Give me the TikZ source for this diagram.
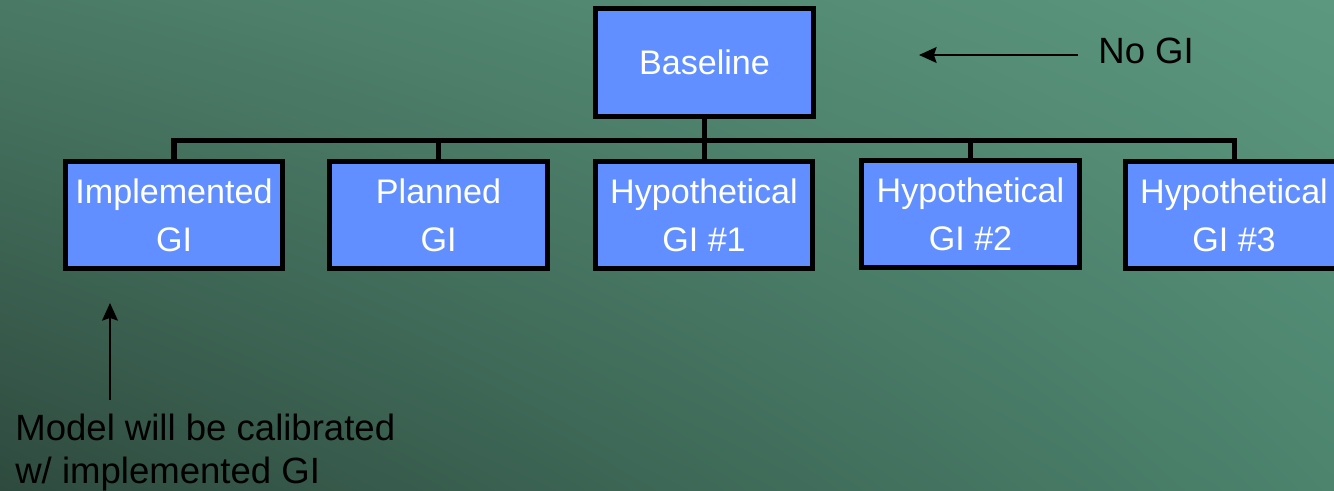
\documentclass[tikz,border=0pt]{standalone}
\usepackage{fontspec}
\setmainfont{Liberation Sans}
\usepackage{tikz}
\usetikzlibrary{arrows.meta, positioning, calc, shadings}
\definecolor{boxblue}{RGB}{98,143,255}
\definecolor{bgtl}{RGB}{74,122,102}
\definecolor{bgtr}{RGB}{92,152,128}
\definecolor{bgbl}{RGB}{46,74,62}
\definecolor{bgbr}{RGB}{76,132,110}
\tikzset{
    gibox/.style={draw=black, line width=2.85pt, fill=boxblue, text=white,
        minimum width=4.36cm, minimum height=2.16cm, inner sep=0pt,
        align=center, font=\fontsize{19.4}{27.5}\selectfont},
    link/.style={line width=2.85pt},
    note/.style={font=\fontsize{20.8}{24.5}\selectfont, inner sep=0pt},
    pointer/.style={-{Stealth[length=10pt, width=9pt, inset=1.5pt]}, line width=1.1pt}
}

\begin{document}
\begin{tikzpicture}[x=0.02cm, y=-0.02cm]
    % background
    \shade[upper left=bgtl, upper right=bgtr, lower left=bgbl, lower right=bgbr]
        (0,0) rectangle (1334,490);
    \useasboundingbox (0,0) rectangle (1334,490);
    \clip (0,0) rectangle (1334,490);
    % tree
    \node[gibox] (base) at (704.5,62.5) {Baseline};
    \node[gibox] (impl) at (174,215) {Implemented\\GI};
    \node[gibox] (plan) at (438.5,215) {Planned\\GI};
    \node[gibox] (hyp1) at (704,215) {Hypothetical\\GI \#1};
    \node[gibox] (hyp2) at (970.5,214) {Hypothetical\\GI \#2};
    \node[gibox] (hyp3) at (1234,215) {Hypothetical\\GI \#3};
    \foreach \n in {impl,plan,hyp1,hyp2,hyp3}
        \draw[link] (base.south) -- ++(0,22) -| (\n.north);
    % notes
    \node[note, anchor=base west] (nogi) at (1098,63) {No GI};
    \coordinate (nogitail) at (1078,55);
    \coordinate (nogitip) at (919,55);
    \draw[pointer] (nogitail) -- (nogitip);
    \node[note, anchor=north west, align=left] (calib) at (15,414)
        {Model will be calibrated\\w/ implemented GI};
    \coordinate (calibtail) at (110,400);
    \coordinate (calibtip) at (110,303);
    \draw[pointer] (calibtail) -- (calibtip);
\end{tikzpicture}
\end{document}
